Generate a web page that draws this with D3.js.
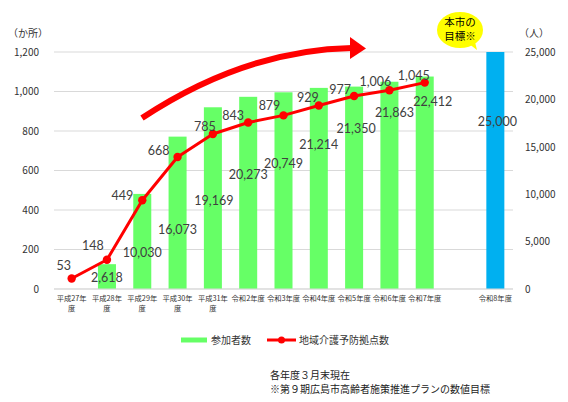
<!DOCTYPE html>
<html>
<head>
<meta charset="utf-8">
<script src="https://cdn.jsdelivr.net/npm/d3@7"></script>
<style>
  body { margin: 0; background: #fff; }
  svg { display: block; }
</style>
</head>
<body>
<div id="chart"></div>
<script>
// 年度
const categories = ["平成27年\n度", "平成28年\n度", "平成29年\n度", "平成30年\n度", "平成31年\n度",
  "令和2年度", "令和3年度", "令和4年度", "令和5年度", "令和6年度", "令和7年度", "令和8年度"];
// 参加者数（人） 令和8年度は目標
const participants = [null, 2618, 10030, 16073, 19169, 20273, 20749, 21214, 21350, 21863, 22412, 25000];
// 地域介護予防拠点数（か所）
const sites = [53, 148, 449, 668, 785, 843, 879, 929, 977, 1006, 1045];
const leftTicks = [0, 200, 400, 600, 800, 1000, 1200];
const rightTicks = [0, 5000, 10000, 15000, 20000, 25000];

// ラベル位置の微調整 [dx, dy]
const barLabelOffset = [[0,0],[0,13],[0,59],[0,93],[1,93],[0,78],[0,71],[0,57],[2,42],[5,31],[8,25],[2,70]];
const siteLabelOffset = [[-8,-13],[-14,-14],[-20,-5],[-19,-6],[-8,-7],[-15,-7],[-14,-10],[-11,-8],[-14,-6],[-14,-9],[-11,-7]];

const W = 568, H = 402;
const svg = d3.select("#chart").append("svg").attr("width", W).attr("height", H);
const m = {left: 54, right: 513, top: 52, bottom: 289};

// 12項目＋空き1枠
const slots = [...categories.slice(0, 11), "gap", categories[11]];
const x = d3.scaleBand().domain(slots).range([m.left, m.right]).paddingInner(0.49).paddingOuter(0.245);
const yL = d3.scaleLinear().domain([0, 1200]).range([m.bottom, m.top]);
const yR = d3.scaleLinear().domain([0, 25000]).range([m.bottom, m.top]);
const cx = (i) => x(categories[i]) + x.bandwidth() / 2;

const numFont = "Lato, 'Open Sans', sans-serif";
const jpFont = "'Noto Sans CJK JP', sans-serif";

// グリッド
svg.append("g").selectAll("line").data(leftTicks).enter().append("line")
  .attr("x1", m.left).attr("x2", m.right)
  .attr("y1", d => yL(d)).attr("y2", d => yL(d))
  .attr("stroke", "#d9d9d9").attr("stroke-width", 1);

// 左軸
const axL = svg.append("g").attr("transform", `translate(${m.left - 12},0)`)
  .call(d3.axisLeft(yL).tickValues(leftTicks).tickSize(0).tickFormat(d3.format(",")));
axL.select(".domain").remove();
axL.selectAll("text").attr("font-family", jpFont).attr("font-size", 10).attr("fill", "#333");
svg.append("text").attr("x", 8).attr("y", 37).text("（か所）")
  .attr("font-family", jpFont).attr("font-size", 10).attr("fill", "#333");

// 右軸
const axR = svg.append("g").attr("transform", `translate(${m.right + 9},0)`)
  .call(d3.axisRight(yR).tickValues(rightTicks).tickSize(0).tickFormat(d3.format(",")));
axR.select(".domain").remove();
axR.selectAll("text").attr("font-family", jpFont).attr("font-size", 10).attr("fill", "#333");
svg.append("text").attr("x", 519).attr("y", 37).text("（人）")
  .attr("font-family", jpFont).attr("font-size", 10).attr("fill", "#333");

// 棒
const barData = participants.map((v, i) => ({v, i})).filter(d => d.v != null);
svg.append("g").selectAll("rect").data(barData).enter().append("rect")
  .attr("x", d => x(categories[d.i]))
  .attr("width", x.bandwidth())
  .attr("y", d => yR(d.v))
  .attr("height", d => yR(0) - yR(d.v))
  .attr("fill", d => d.i === 11 ? "#00b0f0" : "#66ff66");

// 棒ラベル
svg.append("g").selectAll("text").data(barData).enter().append("text")
  .attr("x", d => cx(d.i) + barLabelOffset[d.i][0])
  .attr("y", d => yR(d.v) + barLabelOffset[d.i][1])
  .attr("dy", "0.35em").attr("text-anchor", "middle")
  .attr("font-family", numFont).attr("font-size", 12.5).attr("fill", "#404040")
  .text(d => d3.format(",")(d.v));

// x軸
svg.append("line").attr("x1", m.left).attr("x2", m.right).attr("y1", m.bottom).attr("y2", m.bottom)
  .attr("stroke", "#d9d9d9");
const xl = svg.append("g").selectAll("text").data(categories).enter().append("text")
  .attr("x", (d, i) => cx(i)).attr("y", 301)
  .attr("text-anchor", "middle").attr("font-family", jpFont).attr("font-size", 7.3).attr("fill", "#333");
xl.selectAll("tspan").data(d => d.split("\n")).enter().append("tspan")
  .attr("x", function() { return d3.select(this.parentNode).attr("x"); })
  .attr("dy", (d, j) => j ? 10 : 0).text(d => d);

// 折れ線
const line = d3.line().x((d, i) => cx(i)).y(d => yL(d));
svg.append("path").datum(sites).attr("d", line)
  .attr("fill", "none").attr("stroke", "#ff0000").attr("stroke-width", 3).attr("stroke-linejoin", "round");
svg.append("g").selectAll("circle").data(sites).enter().append("circle")
  .attr("cx", (d, i) => cx(i)).attr("cy", d => yL(d)).attr("r", 4.2).attr("fill", "#ff0000");
svg.append("g").selectAll("text").data(sites).enter().append("text")
  .attr("x", (d, i) => cx(i) + siteLabelOffset[i][0])
  .attr("y", (d, i) => yL(d) + siteLabelOffset[i][1])
  .attr("dy", "0.35em").attr("text-anchor", "middle")
  .attr("font-family", numFont).attr("font-size", 12.5).attr("fill", "#404040")
  .text(d => d3.format(",")(d));

// 大きい矢印
svg.append("path").attr("d", "M142,118 Q245,50 352,48")
  .attr("fill", "none").attr("stroke", "#ff0000").attr("stroke-width", 6);
svg.append("path").attr("d", "M350,37 L366,48.5 L350,59 Z").attr("fill", "#ff0000");

// 吹き出し
svg.append("path").attr("d", "M468,43 L477,50 L474,38 Z").attr("fill", "#ffff00");
svg.append("ellipse").attr("cx", 460).attr("cy", 30).attr("rx", 23).attr("ry", 18).attr("fill", "#ffff00");
svg.append("text").attr("x", 460).attr("y", 26).attr("text-anchor", "middle")
  .attr("font-family", jpFont).attr("font-size", 10.5).attr("fill", "#000").text("本市の");
svg.append("text").attr("x", 460).attr("y", 40).attr("text-anchor", "middle")
  .attr("font-family", jpFont).attr("font-size", 10.5).attr("fill", "#000").text("目標※");

// 凡例
const lg = svg.append("g").attr("font-family", jpFont).attr("font-size", 10).attr("fill", "#333");
lg.append("line").attr("x1", 181).attr("x2", 207).attr("y1", 340).attr("y2", 340)
  .attr("stroke", "#66ff66").attr("stroke-width", 5);
lg.append("text").attr("x", 211).attr("y", 340).attr("dy", "0.35em").text("参加者数");
lg.append("line").attr("x1", 267).attr("x2", 296).attr("y1", 340).attr("y2", 340)
  .attr("stroke", "#ff0000").attr("stroke-width", 3);
lg.append("circle").attr("cx", 281.5).attr("cy", 340).attr("r", 3.5).attr("fill", "#ff0000");
lg.append("text").attr("x", 299).attr("y", 340).attr("dy", "0.35em").text("地域介護予防拠点数");

// 注記
const nt = svg.append("g").attr("font-family", jpFont).attr("font-size", 10).attr("fill", "#222");
nt.append("text").attr("x", 270).attr("y", 375).attr("dy", "0.35em").text("各年度３月末現在");
nt.append("text").attr("x", 270).attr("y", 389).attr("dy", "0.35em").text("※第９期広島市高齢者施策推進プランの数値目標");
</script>
</body>
</html>
